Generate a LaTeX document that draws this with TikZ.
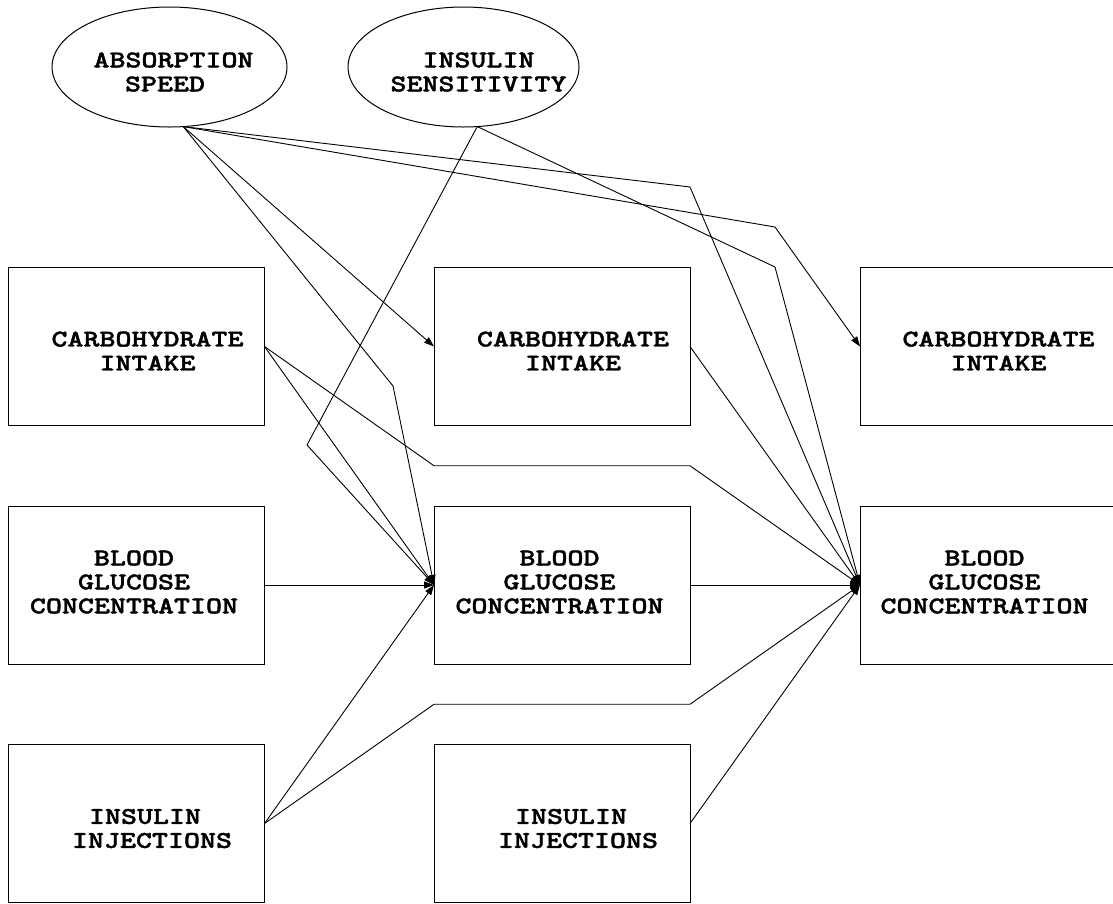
\documentclass[tikz,border=0pt]{standalone}
\usepackage{fontspec}
% heavy slab typewriter face, widened to the Courier-like proportions of the labels
\newfontfamily\lblfont{lmmonolt10-bold.otf}[FakeStretch=1.27,FakeBold=1.6]
\usetikzlibrary{arrows.meta,shapes.geometric,calc}

\begin{document}
\begin{tikzpicture}[x=1pt,y=-1pt,
  box/.style={draw, line width=1pt, minimum width=256pt, minimum height=158pt,
              inner sep=0pt, outer sep=0pt},
  oval/.style={ellipse, draw, line width=1pt, inner sep=0pt, outer sep=0pt,
               minimum height=120pt},
  txt/.style={font=\lblfont\fontsize{24}{24}\selectfont, align=center, inner sep=0pt},
  link/.style={line width=0.9pt, -{Triangle[length=10pt,width=7pt]}},
]
\useasboundingbox (0,0) rectangle (1113,903);

% factors in the ovals
\node[oval, minimum width=235pt,
      label={[txt, xshift=4pt, yshift=-5pt]center:ABSORPTION\\\hbox{SPEED\kern17pt}}]
      (ab) at (169.5,67) {};
\node[oval, minimum width=231pt,
      label={[txt, xshift=15pt, yshift=-5pt]center:INSULIN\\SENSITIVITY}]
      (is) at (463.5,67) {};

% left column
\node[box, label={[txt, xshift=11pt, yshift=-4.5pt]center:CARBOHYDRATE\\INTAKE}]
      (lc) at (136.5,346.5) {};
\node[box, label={[txt, xshift=-2.5pt, yshift=3pt]center:BLOOD\\GLUCOSE\\CONCENTRATION}]
      (lb) at (136.5,585) {};
\node[box, label={[txt, xshift=8.5pt, yshift=-5pt]center:INSULIN\\\hbox{\kern14pt INJECTIONS}}]
      (li) at (136.5,823.5) {};

% middle column
\node[box, label={[txt, xshift=11pt, yshift=-4.5pt]center:CARBOHYDRATE\\INTAKE}]
      (mc) at (562,346.5) {};
\node[box, label={[txt, xshift=-2.5pt, yshift=3pt]center:BLOOD\\GLUCOSE\\CONCENTRATION}]
      (mb) at (562,585) {};
\node[box, label={[txt, xshift=9pt, yshift=-5pt]center:INSULIN\\\hbox{\kern14pt INJECTIONS}}]
      (mi) at (562,823.5) {};

% right column
\node[box, label={[txt, xshift=10.5pt, yshift=-4.5pt]center:CARBOHYDRATE\\INTAKE}]
      (rc) at (988,346.5) {};
\node[box, label={[txt, xshift=-3.5pt, yshift=3pt]center:BLOOD\\GLUCOSE\\CONCENTRATION}]
      (rb) at (988,585) {};

% bend points of the long connectors
\coordinate (a1) at (393,386);
\coordinate (a2) at (690,187);
\coordinate (a3) at (775,227);
\coordinate (s1) at (307,445);
\coordinate (s2) at (775,267);

% connectors
\draw[link] (ab.-77) -- (mc.west);
\draw[link] (ab.-77) -- (a1) -- (mb.west);
\draw[link] (ab.-77) -- (a2) -- (rb.west);
\draw[link] (ab.-77) -- (a3) -- (rc.west);
\draw[link] (is.-77) -- (s1) -- (mb.west);
\draw[link] (is.-77) -- (s2) -- (rb.west);
\draw[link] (lc.east) -- (mb.west);
\draw[link] (lc.east) -- ($(mc.south west)!.5!(mb.north west)$)
                      -- ($(mc.south east)!.5!(mb.north east)$) -- (rb.west);
\draw[link] (lb.east) -- (mb.west);
\draw[link] (li.east) -- (mb.west);
\draw[link] (li.east) -- ($(mb.south west)!.5!(mi.north west)$)
                      -- ($(mb.south east)!.5!(mi.north east)$) -- (rb.west);
\draw[link] (mc.east) -- (rb.west);
\draw[link] (mb.east) -- (rb.west);
\draw[link] (mi.east) -- (rb.west);
\end{tikzpicture}
\end{document}
